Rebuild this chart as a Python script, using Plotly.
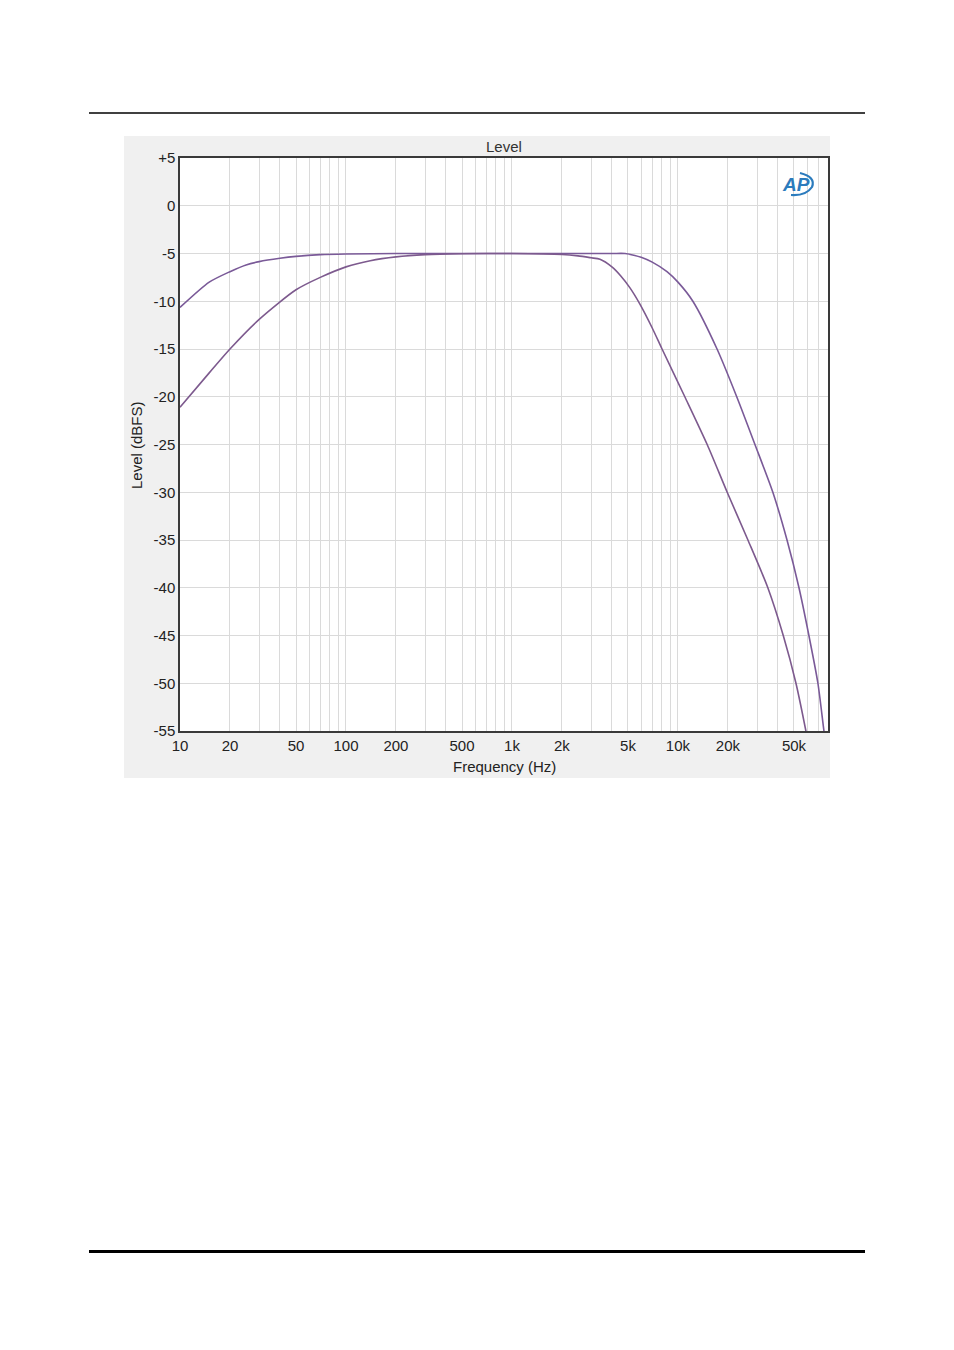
import plotly.graph_objects as go

# ---- data ----
freq_a = [10, 15, 20, 25, 30, 40, 50, 70, 100, 200, 500, 1000, 2000, 4000, 4800, 5500, 6000,
          7000, 8590, 10000, 12300, 17200, 22600, 29100, 37300, 45400, 53600, 61500,
          69700, 75800, 80000]
level_a = [-10.65, -8.0, -6.9, -6.2, -5.85, -5.5, -5.3, -5.12, -5.05, -5.0, -5.0, -5.0, -5.0,
           -5.0, -5.0, -5.2, -5.4, -5.9, -6.9, -8.0, -10.0, -15.0, -20.0, -25.0, -30.0,
           -35.0, -40.0, -45.0, -50.0, -55.0, -58.0]

freq_b = [10, 15, 20, 30, 50, 70, 100, 140, 200, 300, 500, 1000, 2000, 2500, 3000, 3390,
          4000, 4500, 5140, 5900, 7000, 8020, 11000, 15000, 19800, 26400, 34800,
          43100, 51400, 59000, 62000]
level_b = [-21.1, -17.5, -15.0, -11.9, -8.8, -7.5, -6.4, -5.75, -5.35, -5.12, -5.02, -5.0,
           -5.1, -5.25, -5.45, -5.6, -6.4, -7.3, -8.6, -10.3, -12.8, -15.0, -20.0, -25.0,
           -30.0, -35.0, -40.0, -45.0, -50.0, -55.0, -57.0]

x_labels = {10: "10", 20: "20", 50: "50", 100: "100", 200: "200", 500: "500",
            1000: "1k", 2000: "2k", 5000: "5k", 10000: "10k", 20000: "20k", 50000: "50k"}
y_ticks = [5, 0, -5, -10, -15, -20, -25, -30, -35, -40, -45, -50, -55]
y_labels = ["+5", "0", "-5", "-10", "-15", "-20", "-25", "-30", "-35", "-40", "-45", "-50", "-55"]

x_grid = []
for dec in [10, 100, 1000, 10000]:
    for m in range(1, 10):
        v = dec * m
        if v <= 80000:
            x_grid.append(v)
x_text = [x_labels.get(v, "") for v in x_grid]

FONT = "Liberation Sans"
OFF = 8                      # browser body margin
W, H = 954 - 2 * OFF, 1350 - 2 * OFF
PL, PR, PT, PB = 180, 828, 158, 731   # plot area in page pixels


def px(xp):
    return (xp - PL) / (PR - PL)


def py(yp):
    return 1 - (yp - PT) / (PB - PT)


fig = go.Figure()
for fx, lv, col in [(freq_a, level_a, "#7a5a98"), (freq_b, level_b, "#7d5a8e")]:
    fig.add_trace(go.Scatter(x=fx, y=lv, mode="lines",
                             line=dict(color=col, width=1.6, shape="spline", smoothing=0.7),
                             hoverinfo="skip"))

axis_common = dict(showgrid=True, gridcolor="#dadada", gridwidth=1,
                   showline=True, linecolor="#3a3a3a", linewidth=1.5, mirror=True,
                   ticks="", zeroline=False, automargin=False,
                   tickfont=dict(family=FONT, size=15, color="#222222"))

fig.update_layout(
    width=W, height=H,
    margin=dict(l=PL - OFF, r=W - (PR - OFF), t=PT - OFF, b=H - (PB - OFF), pad=0),
    paper_bgcolor="white",
    plot_bgcolor="white",
    showlegend=False,
    font=dict(family=FONT, size=15, color="#222222"),
    xaxis=dict(type="log", range=[1, 4.904], tickvals=x_grid, ticktext=x_text, **axis_common),
    yaxis=dict(range=[-55, 5], tickvals=y_ticks, ticktext=y_labels, **axis_common),
    shapes=[
        dict(type="rect", xref="paper", yref="paper", x0=px(124), x1=px(830),
             y0=py(778), y1=py(136), fillcolor="#f0f0f0", line=dict(width=0), layer="below"),
        dict(type="rect", xref="paper", yref="paper", x0=0, x1=1, y0=0, y1=1,
             fillcolor="white", line=dict(width=0), layer="below"),
        dict(type="line", xref="paper", yref="paper", x0=px(89), x1=px(865),
             y0=py(113), y1=py(113), line=dict(color="black", width=1.3)),
        dict(type="line", xref="paper", yref="paper", x0=px(89), x1=px(865),
             y0=py(1251.5), y1=py(1251.5), line=dict(color="black", width=3)),
        dict(type="path", xref="paper", yref="paper",
             path=(f"M {px(800)},{py(173)} Q {px(816)},{py(177)} {px(812)},{py(187)} "
                   f"Q {px(806)},{py(196)} {px(791)},{py(195)}"),
             line=dict(color="#2b7bbd", width=2.2)),
    ],
    annotations=[
        dict(text="Level", xref="paper", yref="paper", x=px(504), y=py(146),
             showarrow=False, font=dict(family=FONT, size=15, color="#333333"),
             xanchor="center", yanchor="middle"),
        dict(text="Frequency (Hz)", xref="paper", yref="paper", x=px(504), y=py(766),
             showarrow=False, font=dict(family=FONT, size=15, color="#222222"),
             xanchor="center", yanchor="middle"),
        dict(text="Level (dBFS)", xref="paper", yref="paper", x=px(136), y=py(445),
             showarrow=False, textangle=-90, font=dict(family=FONT, size=15, color="#222222"),
             xanchor="center", yanchor="middle"),
        dict(text="<b><i>AP</i></b>", xref="paper", yref="paper", x=px(796), y=py(184),
             showarrow=False, font=dict(family=FONT, size=19, color="#2b7bbd"),
             xanchor="center", yanchor="middle"),
    ],
)

fig.write_html("out.html")
